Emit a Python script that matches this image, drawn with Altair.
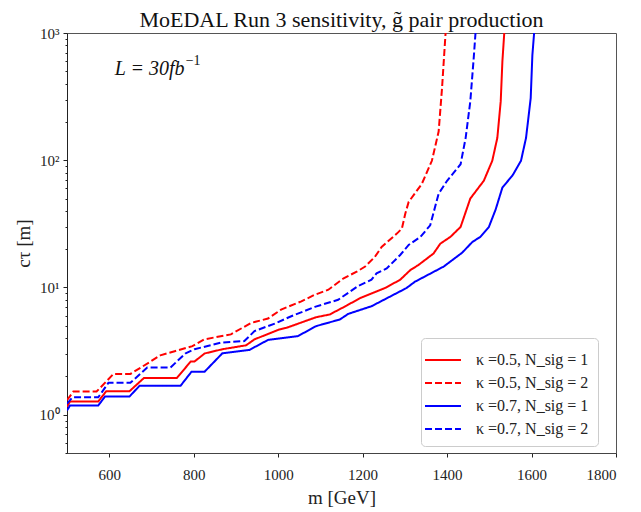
import altair as alt
import pandas as pd

# ---- data ----
series_labels = [
    "κ =0.5, N_sig = 1",
    "κ =0.5, N_sig = 2",
    "κ =0.7, N_sig = 1",
    "κ =0.7, N_sig = 2",
]
series_colors = ["#ff0000", "#ff0000", "#0000ff", "#0000ff"]
series_dashes = [[1, 0], [7, 3], [1, 0], [7, 3]]

k05_n1_m = [500, 507, 574, 593, 648, 682, 760, 793, 802, 826, 868, 924, 944, 1003, 1020, 1090, 1122, 1162, 1194, 1253, 1289, 1313, 1332, 1368, 1384, 1408, 1432, 1455, 1487, 1507, 1519, 1527, 1531, 1537]
k05_n1_ct = [1.15, 1.27, 1.27, 1.53, 1.53, 1.94, 1.94, 2.62, 2.62, 3.03, 3.27, 3.51, 3.91, 4.68, 4.82, 5.84, 6.13, 7.2, 8.25, 9.9, 11.5, 13.7, 15.0, 18.5, 22.1, 25.0, 29.9, 50, 69, 99, 150, 290, 600, 1200]

k05_n2_m = [500, 515, 570, 610, 650, 694, 721, 757, 797, 825, 888, 936, 976, 1007, 1055, 1087, 1119, 1155, 1186, 1206, 1229, 1245, 1281, 1293, 1301, 1309, 1340, 1364, 1380, 1388, 1398]
k05_n2_ct = [1.3, 1.52, 1.52, 2.09, 2.09, 2.57, 2.93, 3.17, 3.46, 3.91, 4.28, 5.27, 5.7, 6.7, 7.78, 8.77, 9.6, 11.8, 13.3, 14.6, 17.4, 20.8, 26.5, 29, 38, 47, 65, 99, 168, 367, 1200]

k07_n1_m = [500, 507, 574, 590, 648, 672, 769, 795, 826, 868, 932, 976, 1047, 1090, 1146, 1166, 1221, 1304, 1324, 1392, 1436, 1460, 1479, 1499, 1515, 1531, 1555, 1575, 1587, 1598, 1602, 1608]
k07_n1_ct = [1.08, 1.18, 1.18, 1.39, 1.39, 1.69, 1.69, 2.18, 2.18, 3.04, 3.23, 3.87, 4.15, 4.97, 5.6, 6.2, 7.12, 9.9, 11.1, 14.6, 18.8, 22.8, 25, 29.9, 41, 61, 76, 99, 150, 307, 672, 1200]

k07_n2_m = [500, 513, 574, 598, 650, 690, 745, 781, 802, 864, 920, 944, 992, 1031, 1087, 1142, 1190, 1221, 1233, 1257, 1289, 1309, 1337, 1360, 1380, 1400, 1432, 1444, 1455, 1463, 1469]
k07_n2_ct = [1.22, 1.37, 1.37, 1.78, 1.78, 2.35, 2.35, 3.04, 3.27, 3.68, 3.79, 4.54, 5.2, 5.94, 7.04, 8.0, 10.3, 11.5, 12.9, 14.1, 18, 21.6, 25, 30.8, 54.6, 68.9, 93, 150, 290, 630, 1200]

x_ticks = [600, 800, 1000, 1200, 1400, 1600, 1800]
y_major = [1, 10, 100, 1000]
y_minor = [0.5, 0.6, 0.7, 0.8, 0.9, 2, 3, 4, 5, 6, 7, 8, 9,
           20, 30, 40, 50, 60, 70, 80, 90, 200, 300, 400, 500, 600, 700, 800, 900]

title_text = "MoEDAL Run 3 sensitivity, g̃ pair production"
ann_text = ["L = 30fb"]
ann_sup = ["−1"]
ann_m = [613]
ann_ct = [520]

# ---- build table ----
rows = []
for lab, ms, cs in zip(series_labels,
                       [k05_n1_m, k05_n2_m, k07_n1_m, k07_n2_m],
                       [k05_n1_ct, k05_n2_ct, k07_n1_ct, k07_n2_ct]):
    for m, c in zip(ms, cs):
        rows.append({"m": m, "ctau": c, "series": lab})
df = pd.DataFrame(rows)

FONT = "Liberation Serif"

xscale = alt.Scale(domain=[500, 1800], nice=False, zero=False)
yscale = alt.Scale(type="log", domain=[0.5, 1000], nice=False)

major_test = "indexof([1,10,100,1000], datum.value) >= 0"
label_expr = ("datum.value == 1 ? '10⁰' : datum.value == 10 ? '10¹' : "
              "datum.value == 100 ? '10²' : datum.value == 1000 ? '10³' : ''")

legend_kw = dict(title=None, orient="none", legendX=354, legendY=305,
                 symbolType="M-1.5,0H1.5", symbolSize=576,
                 symbolStrokeWidth=2, labelFont=FONT,
                 labelFontSize=16, labelColor="#222",
                 labelOffset=20, rowPadding=2,
                 padding=9, fillColor="white",
                 strokeColor="#cccccc", cornerRadius=4)

lines = alt.Chart(df).mark_line(clip=True, strokeWidth=2).encode(
    x=alt.X("m:Q", scale=xscale,
            axis=alt.Axis(values=x_ticks, title="m [GeV]", grid=False, format="d",
                          labelFont=FONT, labelFontSize=15, labelColor="#222",
                          titleFont=FONT, titleFontSize=19, titleFontWeight="normal",
                          titleColor="#222", tickSize=4, tickColor="#222",
                          domainColor="#444", labelPadding=10, titlePadding=6)),
    y=alt.Y("ctau:Q", scale=yscale,
            axis=alt.Axis(values=y_major + y_minor, title="cτ [m]", grid=False,
                          labelExpr=label_expr,
                          tickSize={"condition": {"test": major_test, "value": 4}, "value": 2},
                          labelFont=FONT, labelFontSize=15, labelColor="#222",
                          titleFont=FONT, titleFontSize=19, titleFontWeight="normal",
                          titleColor="#222", tickColor="#222", domainColor="#222",
                          labelPadding=4, titlePadding=6, labelFlush=False)),
    color=alt.Color("series:N",
                    scale=alt.Scale(domain=series_labels, range=series_colors),
                    legend=alt.Legend(**legend_kw)),
    strokeDash=alt.StrokeDash("series:N",
                              scale=alt.Scale(domain=series_labels, range=series_dashes),
                              legend=alt.Legend(**legend_kw)),
)

ann_df = pd.DataFrame({"m": ann_m, "ctau": ann_ct, "t": ann_text, "s": ann_sup})
ann = alt.Chart(ann_df).mark_text(align="left", baseline="middle", font=FONT,
                                   fontSize=20, fontStyle="italic", color="#111").encode(
    x=alt.X("m:Q", scale=xscale), y=alt.Y("ctau:Q", scale=yscale), text="t:N")
ann_sup_mark = alt.Chart(ann_df).mark_text(align="left", baseline="middle", font=FONT,
                                           fontSize=14, color="#111", dx=71, dy=-8).encode(
    x=alt.X("m:Q", scale=xscale), y=alt.Y("ctau:Q", scale=yscale), text="s:N")

chart = alt.layer(lines, ann, ann_sup_mark).properties(
    width=549, height=420,
    title=alt.Title(title_text, font=FONT, fontSize=22, fontWeight="normal",
                    color="#111", offset=-6),
    autosize=alt.AutoSizeParams(type="none"),
    padding={"left": 59, "top": 25, "right": 17, "bottom": 55},
).configure_view(stroke="#555", strokeWidth=1)

chart.save("out.html", embed_options={"renderer": "svg", "actions": False})
